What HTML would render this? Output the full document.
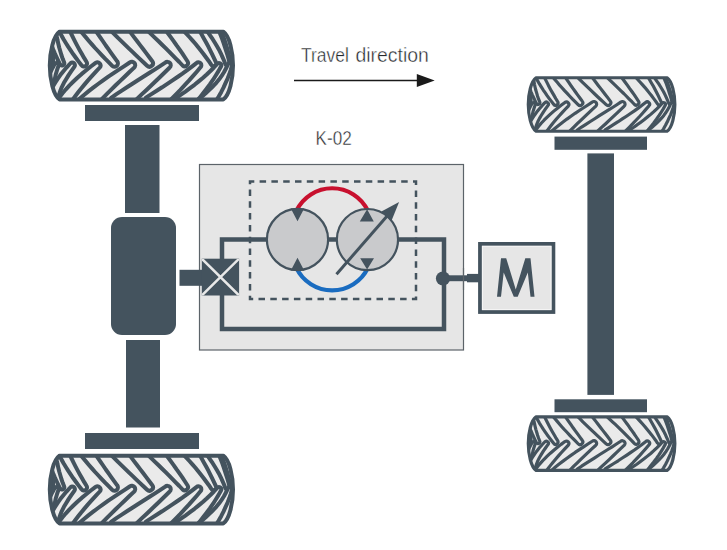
<!DOCTYPE html>
<html><head><meta charset="utf-8"><style>
html,body{margin:0;padding:0;background:#fff;width:727px;height:550px;overflow:hidden;font-family:"Liberation Sans",sans-serif;}
svg{display:block}
</style></head><body>
<svg width="727" height="550" viewBox="0 0 727 550">
<defs>
<g id="tire"><path d="M59.5,31.7 L223.3,31.7 C229.5,36 233.0,52 233.0,65.5 C233.0,79 229.5,95.2 223.3,99.4 L59.5,99.4 C53.3,95.2 49.8,79 49.8,65.5 C49.8,52 53.3,36 59.5,31.7 Z" fill="#eaeaea"/><clipPath id="tc"><path d="M59.5,31.7 L223.3,31.7 C229.5,36 233.0,52 233.0,65.5 C233.0,79 229.5,95.2 223.3,99.4 L59.5,99.4 C53.3,95.2 49.8,79 49.8,65.5 C49.8,52 53.3,36 59.5,31.7 Z"/></clipPath><g clip-path="url(#tc)"><path d="M45.2,26.0 L45.4,29.8 L45.7,33.5 L45.9,37.2 L46.1,41.0 L46.4,44.8 L46.7,48.6 L47.1,52.5 L47.6,56.3 L48.3,60.1 L49.0,63.8 A2.17,2.17 0 0 0 53.3,63.2 L53.3,63.2 L53.1,59.4 L52.9,55.7 L52.9,52.0 L53.0,48.4 L53.2,44.7 L53.5,41.0 L53.7,37.2 L53.9,33.5 L54.2,29.8 L54.4,26.0 Z" fill="#eaeaea" stroke="#44535e" stroke-width="4" stroke-linejoin="round"/><path d="M46.3,26.7 L47.2,30.6 L48.2,34.4 L49.3,38.2 L50.5,42.0 L51.8,45.8 L53.2,49.5 L54.8,53.3 L56.5,57.0 L58.2,60.7 L60.0,64.4 A2.31,2.31 0 0 0 64.2,62.6 L64.2,62.6 L62.7,58.8 L61.4,55.0 L60.3,51.2 L59.2,47.5 L58.3,43.7 L57.5,40.0 L56.8,36.3 L56.3,32.6 L55.8,28.9 L55.5,25.3 Z" fill="#eaeaea" stroke="#44535e" stroke-width="4" stroke-linejoin="round"/><path d="M57.7,28.1 L59.6,31.9 L61.6,35.7 L63.7,39.5 L66.0,43.2 L68.3,46.9 L70.8,50.6 L73.3,54.3 L76.0,58.0 L78.7,61.6 L81.5,65.2 A3.01,3.01 0 0 0 86.5,61.8 L86.5,61.8 L84.1,57.9 L81.9,54.0 L79.7,50.2 L77.6,46.4 L75.6,42.6 L73.7,38.8 L71.8,35.0 L70.0,31.3 L68.3,27.6 L66.7,23.9 Z" fill="#eaeaea" stroke="#44535e" stroke-width="4" stroke-linejoin="round"/><path d="M79.7,29.8 L82.6,33.5 L85.7,37.1 L88.7,40.7 L91.9,44.4 L95.1,48.0 L98.4,51.5 L101.7,55.1 L105.1,58.7 L108.6,62.2 L112.0,65.7 A3.41,3.41 0 0 0 117.2,61.3 L117.2,61.3 L114.3,57.3 L111.4,53.3 L108.6,49.4 L105.8,45.5 L103.1,41.5 L100.4,37.6 L97.8,33.8 L95.2,29.9 L92.7,26.0 L90.3,22.2 Z" fill="#eaeaea" stroke="#44535e" stroke-width="4" stroke-linejoin="round"/><path d="M110.9,30.8 L114.5,34.3 L118.0,37.9 L121.6,41.4 L125.2,44.9 L128.8,48.4 L132.5,51.9 L136.1,55.4 L139.8,58.9 L143.4,62.3 L147.1,65.8 A3.49,3.49 0 0 0 152.3,61.2 L152.3,61.2 L149.3,57.2 L146.2,53.1 L143.1,49.1 L140.1,45.1 L137.0,41.1 L134.0,37.1 L131.0,33.1 L127.9,29.1 L125.0,25.2 L122.0,21.2 Z" fill="#eaeaea" stroke="#44535e" stroke-width="4" stroke-linejoin="round"/><path d="M147.8,30.9 L151.4,34.4 L155.0,37.9 L158.6,41.3 L162.1,44.7 L165.6,48.2 L169.1,51.6 L172.5,55.1 L175.9,58.6 L179.3,62.0 L182.6,65.5 A3.24,3.24 0 0 0 187.6,61.5 L187.6,61.5 L185.0,57.5 L182.3,53.4 L179.5,49.4 L176.6,45.4 L173.8,41.3 L170.9,37.3 L167.9,33.2 L165.0,29.1 L162.0,25.1 L158.9,21.1 Z" fill="#eaeaea" stroke="#44535e" stroke-width="4" stroke-linejoin="round"/><path d="M183.1,30.1 L186.3,33.6 L189.4,37.0 L192.4,40.4 L195.4,43.8 L198.2,47.3 L201.0,50.8 L203.7,54.2 L206.3,57.7 L208.9,61.2 L211.3,64.8 A2.62,2.62 0 0 0 215.9,62.2 L215.9,62.2 L214.1,58.3 L212.2,54.3 L210.2,50.3 L208.1,46.2 L206.0,42.2 L203.7,38.2 L201.4,34.1 L199.0,30.0 L196.6,25.9 L194.0,21.9 Z" fill="#eaeaea" stroke="#44535e" stroke-width="4" stroke-linejoin="round"/><path d="M205.5,28.9 L208.0,32.3 L210.4,35.8 L212.7,39.2 L214.9,42.7 L217.0,46.2 L219.0,49.7 L220.8,53.3 L222.4,56.9 L224.0,60.5 L225.4,64.2 A2.17,2.17 0 0 0 229.5,62.8 L229.5,62.8 L228.6,59.0 L227.5,55.1 L226.2,51.2 L225.0,47.3 L223.7,43.3 L222.3,39.3 L220.7,35.3 L219.1,31.2 L217.4,27.2 L215.6,23.1 Z" fill="#eaeaea" stroke="#44535e" stroke-width="4" stroke-linejoin="round"/><path d="M219.4,27.6 L221.0,31.2 L222.5,34.8 L223.9,38.3 L225.2,41.9 L226.3,45.5 L227.4,49.1 L228.3,52.7 L229.2,56.3 L229.9,60.0 L230.5,63.7 A2.17,2.17 0 0 0 234.8,63.3 L234.8,63.3 L234.7,59.5 L234.5,55.7 L234.1,51.8 L233.6,47.9 L233.0,44.0 L232.3,40.1 L231.4,36.2 L230.4,32.2 L229.3,28.3 L228.1,24.4 Z" fill="#eaeaea" stroke="#44535e" stroke-width="4" stroke-linejoin="round"/><path d="M55.7,105.0 L55.3,101.0 L54.9,97.0 L54.6,93.1 L54.2,89.1 L53.8,85.1 L53.4,81.1 L53.0,77.1 L52.7,73.2 L52.4,69.4 L52.4,65.4 A2.11,2.11 0 0 0 48.2,65.0 L48.2,65.0 L47.4,68.9 L46.9,73.1 L46.6,77.1 L46.2,81.1 L45.8,85.1 L45.4,89.1 L45.0,93.1 L44.7,97.0 L44.3,101.0 L43.9,105.0 Z" fill="#eaeaea" stroke="#44535e" stroke-width="4" stroke-linejoin="round"/><path d="M55.7,105.0 L55.3,101.0 L54.9,97.0 L54.5,93.2 L54.3,89.5 L54.2,85.8 L54.5,82.0 L55.0,78.1 L55.8,74.2 L57.0,70.2 L58.4,66.1 A2.11,2.11 0 0 0 54.5,64.3 L54.5,64.3 L52.4,68.2 L50.5,72.1 L48.8,76.2 L47.5,80.3 L46.4,84.4 L45.6,88.7 L45.1,92.9 L44.7,97.0 L44.3,101.0 L43.9,105.0 Z" fill="#eaeaea" stroke="#44535e" stroke-width="4" stroke-linejoin="round"/><path d="M56.7,106.4 L57.1,102.6 L57.9,98.8 L58.9,95.0 L60.2,91.1 L61.8,87.1 L63.8,83.1 L66.1,79.2 L68.6,75.1 L71.3,71.1 L74.3,66.9 A2.64,2.64 0 0 0 70.2,63.5 L70.2,63.5 L66.7,67.3 L63.4,71.2 L60.3,75.1 L57.5,79.1 L54.9,83.1 L52.5,87.1 L50.2,91.1 L48.3,95.2 L46.6,99.4 L45.2,103.6 Z" fill="#eaeaea" stroke="#44535e" stroke-width="4" stroke-linejoin="round"/><path d="M66.8,108.4 L69.3,104.6 L71.9,100.7 L74.8,96.8 L77.8,92.8 L81.0,88.7 L84.4,84.6 L88.0,80.4 L91.8,76.2 L95.7,71.9 L99.8,67.5 A3.15,3.15 0 0 0 95.6,62.9 L95.6,62.9 L90.8,66.5 L86.2,70.2 L81.7,73.9 L77.4,77.7 L73.4,81.5 L69.5,85.4 L65.9,89.3 L62.5,93.3 L59.3,97.4 L56.5,101.6 Z" fill="#eaeaea" stroke="#44535e" stroke-width="4" stroke-linejoin="round"/><path d="M90.7,110.9 L94.5,106.8 L98.4,102.6 L102.5,98.4 L106.7,94.1 L111.0,89.8 L115.4,85.5 L120.0,81.1 L124.6,76.7 L129.2,72.3 L133.9,67.9 A3.39,3.39 0 0 0 129.7,62.5 L129.7,62.5 L124.3,66.1 L118.9,69.6 L113.6,73.2 L108.3,76.7 L103.1,80.4 L98.1,84.0 L93.2,87.7 L88.4,91.4 L83.7,95.2 L79.3,99.1 Z" fill="#eaeaea" stroke="#44535e" stroke-width="4" stroke-linejoin="round"/><path d="M122.7,112.2 L127.3,107.9 L132.0,103.5 L136.7,99.1 L141.4,94.6 L146.2,90.2 L150.9,85.7 L155.6,81.2 L160.3,76.7 L164.9,72.3 L169.5,67.8 A3.32,3.32 0 0 0 165.3,62.6 L165.3,62.6 L160.0,66.1 L154.6,69.6 L149.2,73.0 L143.7,76.5 L138.2,80.0 L132.8,83.5 L127.3,87.0 L121.8,90.6 L116.4,94.1 L111.1,97.8 Z" fill="#eaeaea" stroke="#44535e" stroke-width="4" stroke-linejoin="round"/><path d="M157.6,112.4 L162.3,107.9 L167.0,103.4 L171.5,98.9 L176.0,94.3 L180.4,89.8 L184.7,85.2 L188.9,80.7 L192.9,76.2 L196.8,71.7 L200.5,67.3 A2.93,2.93 0 0 0 196.4,63.1 L196.4,63.1 L191.9,66.6 L187.2,70.1 L182.4,73.6 L177.5,77.0 L172.5,80.4 L167.3,83.8 L162.1,87.3 L156.7,90.7 L151.4,94.1 L145.9,97.6 Z" fill="#eaeaea" stroke="#44535e" stroke-width="4" stroke-linejoin="round"/><path d="M187.4,111.7 L191.6,107.1 L195.6,102.5 L199.5,97.9 L203.1,93.3 L206.6,88.8 L210.0,84.2 L213.1,79.7 L215.9,75.3 L218.6,70.9 L221.0,66.5 A2.32,2.32 0 0 0 217.2,63.9 L217.2,63.9 L213.9,67.5 L210.4,71.0 L206.7,74.5 L202.8,78.0 L198.7,81.4 L194.5,84.8 L190.0,88.2 L185.4,91.6 L180.6,94.9 L175.7,98.3 Z" fill="#eaeaea" stroke="#44535e" stroke-width="4" stroke-linejoin="round"/><path d="M209.7,110.3 L212.9,105.7 L215.9,101.1 L218.7,96.5 L221.3,91.9 L223.6,87.4 L225.6,82.9 L227.6,78.6 L229.3,74.3 L230.7,70.0 L231.9,65.9 A2.11,2.11 0 0 0 227.9,64.5 L227.9,64.5 L226.1,68.3 L224.1,72.0 L221.8,75.7 L219.2,79.3 L216.3,82.8 L213.1,86.2 L209.6,89.6 L206.0,93.0 L202.1,96.4 L198.1,99.7 Z" fill="#eaeaea" stroke="#44535e" stroke-width="4" stroke-linejoin="round"/></g><path d="M59.5,31.7 L223.3,31.7 C229.5,36 233.0,52 233.0,65.5 C233.0,79 229.5,95.2 223.3,99.4 L59.5,99.4 C53.3,95.2 49.8,79 49.8,65.5 C49.8,52 53.3,36 59.5,31.7 Z" fill="none" stroke="#44535e" stroke-width="4" stroke-linejoin="round"/></g>
</defs>
<rect width="727" height="550" fill="#ffffff"/>
<!-- text -->
<text x="301" y="61.8" font-family="Liberation Sans" font-size="19.6" fill="#25282c" stroke="#ffffff" stroke-width="0.4" textLength="48" lengthAdjust="spacingAndGlyphs">Travel</text><text x="355.4" y="61.8" font-family="Liberation Sans" font-size="19.6" fill="#25282c" stroke="#ffffff" stroke-width="0.4" textLength="73.5" lengthAdjust="spacingAndGlyphs">direction</text>
<line x1="294" y1="80.5" x2="418" y2="80.5" stroke="#1a1a1a" stroke-width="1.5"/>
<path d="M434.7,80.5 L416.8,73.9 L416.8,86.9 Z" fill="#1a1a1a"/>
<text x="315.5" y="145.3" font-family="Liberation Sans" font-size="19.5" fill="#25282c" stroke="#ffffff" stroke-width="0.4" textLength="36.2" lengthAdjust="spacingAndGlyphs">K-02</text>
<!-- tires -->
<use href="#tire"/>
<use href="#tire" transform="translate(0,424)"/>
<use href="#tire" transform="translate(526.7,76.2) scale(0.8,0.79) translate(-47.8,-29.7)"/>
<use href="#tire" transform="translate(526.7,415.3) scale(0.8,0.79) translate(-47.8,-29.7)"/>
<!-- left axle -->
<rect x="85" y="105" width="114" height="16" fill="#44535e"/>
<rect x="125" y="125" width="34.5" height="88" fill="#44535e"/>
<rect x="111" y="217" width="65" height="118" rx="11" fill="#44535e"/>
<rect x="126" y="340" width="34" height="87.5" fill="#44535e"/>
<rect x="85" y="433" width="114" height="16" fill="#44535e"/>
<!-- right axle -->
<rect x="554.5" y="136.6" width="92.5" height="13.2" fill="#44535e"/>
<rect x="587.4" y="153.4" width="26.6" height="241.5" fill="#44535e"/>
<rect x="554.5" y="399.3" width="92.5" height="12.9" fill="#44535e"/>
<!-- K-02 box -->
<rect x="199.5" y="164.5" width="264" height="185.5" fill="#e6e6e6" stroke="#5c6369" stroke-width="1.2"/>
<rect x="250" y="181.6" width="166" height="117.4" fill="none" stroke="#44535e" stroke-width="2.5" stroke-dasharray="6.5 5.3" stroke-dashoffset="2.2"/>
<!-- circuit -->
<path d="M222,262 V239.5 H444 V329 H222 V292" fill="none" stroke="#44535e" stroke-width="4.5"/>
<!-- red/blue arcs -->
<path d="M296.27,211 A39.66,39.66 0 0 1 368.03,211" fill="none" stroke="#c8102e" stroke-width="4.2"/>
<path d="M296.27,267.6 A39.66,39.66 0 0 0 368.03,267.6" fill="none" stroke="#1a6cc0" stroke-width="4.2"/>
<!-- pumps -->
<circle cx="297.5" cy="239.5" r="30.6" fill="#c9cacc" stroke="#44535e" stroke-width="2.2"/>
<circle cx="367.45" cy="239.6" r="30.6" fill="#c9cacc" stroke="#44535e" stroke-width="2.2"/>
<path d="M290.8,208.5 L304.2,208.5 L297.5,221.3 Z M290.8,270.5 L304.2,270.5 L297.5,257.8 Z" fill="#44535e"/>
<path d="M359.8,221.5 L373.8,221.5 L367.1,209.3 Z M360.2,258.3 L374,258.3 L367.1,269.6 Z" fill="#44535e"/>
<line x1="336.5" y1="274.2" x2="388" y2="215" stroke="#44535e" stroke-width="3"/>
<path d="M399.1,202 L381.4,211.4 L391.3,221.3 Z" fill="#44535e"/>
<!-- valve -->
<rect x="179.5" y="269.8" width="24" height="16" fill="#44535e"/>
<rect x="201.8" y="258.7" width="37.3" height="36.8" fill="#44535e"/>
<clipPath id="vc"><rect x="201.8" y="258.7" width="37.3" height="36.8"/></clipPath>
<path clip-path="url(#vc)" d="M201.8,258.7 L239.1,295.5 M239.1,258.7 L201.8,295.5" stroke="#e8e8e8" stroke-width="2.5"/>
<!-- node & motor link -->
<circle cx="443" cy="278.5" r="7.1" fill="#44535e"/>
<rect x="443" y="275.3" width="25" height="5.9" fill="#44535e"/>
<line x1="463.5" y1="268" x2="463.5" y2="290" stroke="#5c6369" stroke-width="1.2"/>
<rect x="467" y="273.9" width="13" height="8.4" fill="#44535e"/>
<rect x="480" y="243.9" width="73.4" height="68.1" fill="#e6e6e6" stroke="#44535e" stroke-width="3.8"/>
<rect x="482.4" y="246.3" width="68.6" height="63.3" fill="none" stroke="#f6f6f6" stroke-width="1"/>
<path d="M497.00,296.80 L501.00,258.20 L506.20,258.20 L515.75,289.40 L525.30,258.20 L530.50,258.20 L534.50,296.80 L530.50,296.80 L527.80,272.60 L517.70,296.80 L513.80,296.80 L503.70,272.60 L501.00,296.80 Z" fill="#44535e"/>
</svg>
</body></html>
